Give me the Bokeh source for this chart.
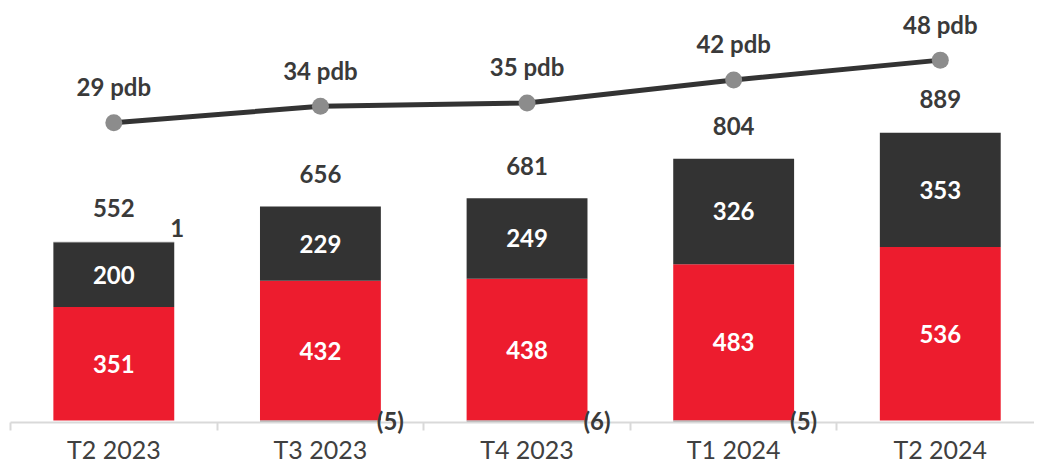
from bokeh.plotting import figure
from bokeh.models import Range1d, ColumnDataSource, FixedTicker, LinearAxis
from bokeh.core.properties import value
from bokeh.embed import file_html
from bokeh.resources import INLINE

categories = ["T2 2023", "T3 2023", "T4 2023", "T1 2024", "T2 2024"]
red_vals = [351, 432, 438, 483, 536]
dark_vals = [200, 229, 249, 326, 353]
other_vals = [1, -5, -6, -5, 0]
totals = [552, 656, 681, 804, 889]
pdb_vals = [29, 34, 35, 42, 48]

RED = "#ED1C2E"
DARK = "#333333"
GRAY = "#a6a6a6"
TXT = "#3a3a3a"
FONT = "Lato"
LBL = "24px"

n = len(categories)
xs = [i + 0.5 for i in range(n)]
W = 0.585

p = figure(width=1034, height=466, output_backend="svg", toolbar_location=None,
           x_range=Range1d(0, 4.956), y_range=Range1d(-6.1, 1297.5),
           x_axis_location=None, y_axis_location=None,
           min_border_left=10, min_border_right=0, min_border_top=0, min_border_bottom=0)
p.extra_y_ranges = {"pdb": Range1d(-62.0, 66.1)}
p.outline_line_color = None
p.grid.visible = False

red_top = red_vals
dark_bottom = red_vals
dark_top = [r + d for r, d in zip(red_vals, dark_vals)]
oth_bottom = [dt if o > 0 else 0 for dt, o in zip(dark_top, other_vals)]
oth_top = [dt + o if o > 0 else o for dt, o in zip(dark_top, other_vals)]

src = ColumnDataSource(dict(x=xs, red_top=red_top, dark_bottom=dark_bottom, dark_top=dark_top,
                            red_mid=[r / 2 for r in red_vals],
                            dark_mid=[r + d / 2 for r, d in zip(red_vals, dark_vals)],
                            red_lbl=[str(v) for v in red_vals],
                            dark_lbl=[str(v) for v in dark_vals],
                            totals=totals, tot_lbl=[str(v) for v in totals],
                            pdb=pdb_vals, pdb_lbl=[f"{v} pdb" for v in pdb_vals]))

p.vbar(x="x", width=W, bottom=0, top="red_top", source=src, fill_color=RED, line_color=None)
p.vbar(x="x", width=W, bottom="dark_bottom", top="dark_top", source=src, fill_color=DARK, line_color=None)

o_idx = [i for i, v in enumerate(other_vals) if v != 0]
osrc = ColumnDataSource(dict(
    x=[xs[i] for i in o_idx],
    bottom=[oth_bottom[i] for i in o_idx],
    top=[oth_top[i] for i in o_idx],
    lx=[xs[i] + W / 2 for i in o_idx],
    ly=[oth_top[i] if other_vals[i] > 0 else 0 for i in o_idx],
    lyo=[-14 if other_vals[i] > 0 else 0 for i in o_idx],
    lbl=[str(other_vals[i]) if other_vals[i] > 0 else f"({-other_vals[i]})" for i in o_idx],
))
p.vbar(x="x", width=W, bottom="bottom", top="top", source=osrc, fill_color=GRAY, line_color=None)

p.text(x="x", y="red_mid", text="red_lbl", source=src, text_color="white", text_font=value(FONT),
       text_font_style="bold", text_font_size=LBL, text_align="center", text_baseline="middle")
p.text(x="x", y="dark_mid", text="dark_lbl", source=src, text_color="white", text_font=value(FONT),
       text_font_style="bold", text_font_size=LBL, text_align="center", text_baseline="middle")
p.text(x="x", y="totals", text="tot_lbl", source=src, y_offset=-34, text_color=TXT, text_font=value(FONT),
       text_font_style="bold", text_font_size=LBL, text_align="center", text_baseline="middle")

p.line(x="x", y="pdb", source=src, y_range_name="pdb", line_color=DARK, line_width=5)
p.scatter(x="x", y="pdb", source=src, y_range_name="pdb", size=17, fill_color="#8c8c8c", line_color=None)
p.text(x="x", y="pdb", text="pdb_lbl", source=src, y_range_name="pdb", y_offset=-36, text_color=TXT,
       text_font=value(FONT), text_font_style="bold", text_font_size=LBL, text_align="center",
       text_baseline="middle")

xa = LinearAxis(ticker=FixedTicker(ticks=xs, minor_ticks=list(range(n + 1))))
xa.major_label_overrides = {x: c for x, c in zip(xs, categories)}
xa.axis_line_color = "#d9d9d9"
xa.axis_line_width = 2
xa.major_tick_line_color = None
xa.major_tick_out = 0
xa.major_tick_in = 0
xa.minor_tick_line_color = "#d9d9d9"
xa.minor_tick_line_width = 2
xa.minor_tick_out = 8
xa.minor_tick_in = 0
xa.major_label_standoff = 3
xa.major_label_text_font = FONT
xa.major_label_text_font_size = "25px"
xa.major_label_text_color = "#404040"
p.add_layout(xa, "below")

p.text(x="lx", y="ly", text="lbl", source=osrc, x_offset=-4, y_offset="lyo", text_color=TXT,
       text_font=value(FONT), text_font_style="bold", text_font_size=LBL, text_align="left",
       text_baseline="middle", level="overlay")

open("out.html", "w").write(file_html(p, INLINE))
